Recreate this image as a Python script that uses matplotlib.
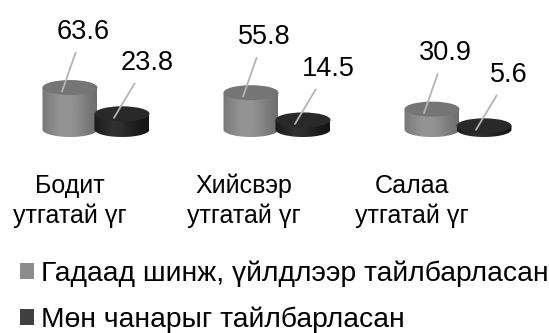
import numpy as np
import matplotlib
matplotlib.use("Agg")
import matplotlib.pyplot as plt
from matplotlib.patches import Ellipse, Patch
from matplotlib.path import Path
from matplotlib.transforms import blended_transform_factory

plt.rcParams['font.family'] = ['Liberation Sans', 'DejaVu Sans']

categories = ["Бодит\nутгатай үг", "Хийсвэр\nутгатай үг", "Салаа\nутгатай үг"]
series_names = ["Гадаад шинж, үйлдлээр тайлбарласан", "Мөн чанарыг тайлбарласан"]
external = [63.6, 55.8, 30.9]
essence = [23.8, 14.5, 5.6]

W, H = 549, 333
fig = plt.figure(figsize=(W / 100, H / 100), dpi=100)
ax = fig.add_axes([0, 1 - 145 / H, 1, 145 / H])
ax.set_axis_off()

px_per_x = 181.0
px_per_y = 0.66
xlim = (-70 / px_per_x, (W - 70) / px_per_x)
ylim = (-(145 - 129.5) / px_per_y, 129.5 / px_per_y)

bar_w = 55 / px_per_x
offset = 52 / px_per_x
ell_h = 7.5 / px_per_y  # half height

styles = [
    dict(shades=[0.47, 0.53, 0.58, 0.58, 0.54, 0.48, 0.43], top=0.46, legend='#8c8c8c',
         txt=(21, 60)),
    dict(shades=[0.10, 0.15, 0.19, 0.18, 0.14, 0.10, 0.08], top=0.16, legend='#404040',
         txt=(33, 55)),
]


def cylinder(xc, v, st, z):
    x0, x1 = xc - bar_w / 2, xc + bar_w / 2
    t = np.linspace(np.pi, 2 * np.pi, 40)
    arc = np.column_stack([xc + bar_w / 2 * np.cos(t), ell_h * np.sin(t)])
    verts = np.vstack([[x0, v], arc, [x1, v], [x0, v]])
    path = Path(verts)
    sh = np.interp(np.linspace(0, 1, 64), np.linspace(0, 1, len(st['shades'])), st['shades'])
    img = np.repeat(sh[None, :], 2, axis=0)
    im = ax.imshow(img, cmap='gray', vmin=0, vmax=1, extent=[x0, x1, -ell_h, v],
                   aspect='auto', interpolation='bilinear', zorder=z)
    im.set_clip_path(path, ax.transData)
    top = Ellipse((xc, v), bar_w, 2 * ell_h, facecolor=str(st['top']), edgecolor='none',
                  zorder=z + 0.1)
    ax.add_patch(top)


for si, vals in enumerate([external, essence]):
    st = styles[si]
    for i, v in enumerate(vals):
        xc = i + si * offset
        cylinder(xc, v, st, 2 + si * 2)
        anchor = (xc - 8 / px_per_x, v - 4 / px_per_y)
        ax.annotate(f"{v}", xy=anchor, xytext=st['txt'], textcoords='offset pixels',
                    ha='center', va='center', fontsize=19.5, color='black',
                    arrowprops=dict(arrowstyle='-', color='#b4b4b4', lw=1.3,
                                    shrinkA=4, shrinkB=0),
                    zorder=10, annotation_clip=False)

ax.set_xlim(*xlim)
ax.set_ylim(*ylim)

trans = blended_transform_factory(ax.transData, fig.transFigure)
label_shift = [0.0, -0.04, -0.11]
for i, c in enumerate(categories):
    fig.text(i + label_shift[i], 1 - 201 / H, c, transform=trans, ha='center', va='center',
             fontsize=18, linespacing=1.3)

handles = [Patch(facecolor=styles[k]['legend'], edgecolor='none') for k in range(2)]
fig.legend(handles, series_names, loc='center left', bbox_to_anchor=(20 / W, 1 - 296.5 / H),
           frameon=False, fontsize=20.3, handlelength=0.5, handleheight=0.5,
           handletextpad=0.25, labelspacing=0.68, borderpad=0, borderaxespad=0)

fig.savefig("out.png", dpi=100)
